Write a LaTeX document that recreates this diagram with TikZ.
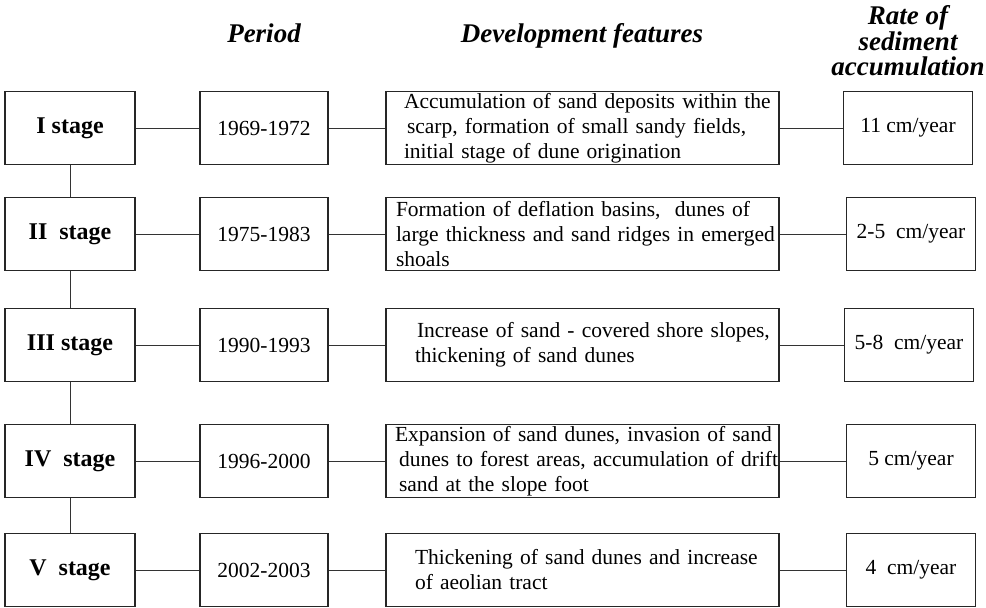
\documentclass[tikz,border=0pt]{standalone}
\usepackage{fontspec}
\setmainfont{Liberation Serif}
\newcommand{\fl}[2]{\mbox{\hspace*{#1pt}#2}}
\begin{document}
\begin{tikzpicture}[x=1pt,y=-1pt,
  box/.style={draw=black!85, line width=1.2pt, inner sep=0pt, minimum height=73pt},
  stagebox/.style={box, minimum width=130pt, font=\fontsize{24}{28}\selectfont\bfseries},
  periodbox/.style={box, minimum width=128pt, font=\fontsize{21.5}{25}\selectfont},
  featbox/.style={box, text width=393pt, align=left, font=\fontsize{21.5}{25}\selectfont},
  ratebox/.style={box, minimum width=129pt, font=\fontsize{21.5}{25}\selectfont},
  head/.style={inner sep=0pt, font=\fontsize{27}{25.5}\selectfont\bfseries\itshape, align=center},
  link/.style={draw=black!80, line width=1pt}]
\useasboundingbox (0,0) rectangle (986,608);

% headers
\node[head, anchor=base] (hp) at (264,42) {Period};
\node[head, anchor=base] (hf) at (582,42) {Development features};
\node[head] (hr) at (908,41) {Rate of\\sediment\\accumulation};

% row I
\node[stagebox] (s1) at (70,128) {I stage};
\node[periodbox] (p1) at (264,128) {1969-1972};
\node[featbox] (f1) at (582.5,128) {\fl{18}{Accumulation of sand deposits within the}\\\fl{21}{scarp, formation of small sandy fields,}\\\fl{18}{initial stage of dune origination}};
\node[ratebox] (r1) at (908,128) {11 cm/year};

% row II
\node[stagebox] (s2) at (70,234) {II\ \ stage};
\node[periodbox] (p2) at (264,234) {1975-1983};
\node[featbox] (f2) at (582.5,234) {\fl{10}{Formation of deflation basins,\ \ dunes of}\\\fl{10}{large thickness and sand ridges in emerged}\\\fl{10}{shoals}};
\node[ratebox] (r2) at (911,234) {2-5\ \ cm/year};

% row III
\node[stagebox] (s3) at (70,345) {III stage};
\node[periodbox] (p3) at (264,345) {1990-1993};
\node[featbox] (f3) at (582.5,345) {\fl{31}{Increase of sand - covered shore slopes,}\\\fl{29}{thickening of sand dunes}};
\node[ratebox] (r3) at (909,345) {5-8\ \ cm/year};

% row IV
\node[stagebox] (s4) at (70,461) {IV\ \ stage};
\node[periodbox] (p4) at (264,461) {1996-2000};
\node[featbox] (f4) at (582.5,461) {\fl{9}{Expansion of sand dunes, invasion of sand}\\\fl{13}{dunes to forest areas, accumulation of drift}\\\fl{13}{sand at the slope foot}};
\node[ratebox] (r4) at (911,461) {5 cm/year};

% row V
\node[stagebox] (s5) at (70,570) {V\ \ stage};
\node[periodbox] (p5) at (264,570) {2002-2003};
\node[featbox] (f5) at (582.5,570) {\fl{29}{Thickening of sand dunes and increase}\\\fl{29}{of aeolian tract}};
\node[ratebox] (r5) at (911,570) {4\ \ cm/year};

% connectors
\foreach \i in {1,...,5}{
  \draw[link] (s\i) -- (p\i);
  \draw[link] (p\i) -- (f\i);
  \draw[link] (f\i) -- (r\i);
}
\draw[link] (s1) -- (s2);
\draw[link] (s2) -- (s3);
\draw[link] (s3) -- (s4);
\draw[link] (s4) -- (s5);
\end{tikzpicture}
\end{document}
